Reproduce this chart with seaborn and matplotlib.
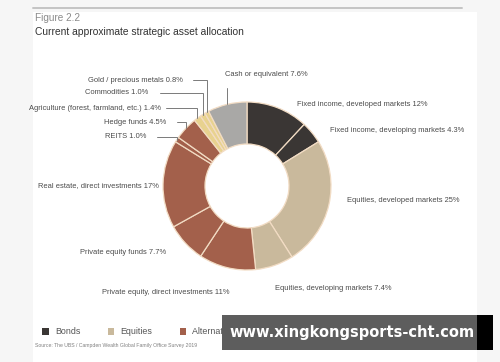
import matplotlib
matplotlib.use("Agg")
import matplotlib.pyplot as plt
import seaborn as sns
import numpy as np
from matplotlib.patches import Patch, Rectangle
from matplotlib.lines import Line2D

# ---------------- data ----------------
categories = ['Fixed income, developed markets', 'Fixed income, developing markets',
              'Equities, developed markets', 'Equities, developing markets',
              'Private equity, direct investments', 'Private equity funds',
              'Real estate, direct investments', 'REITS', 'Hedge funds',
              'Agriculture (forest, farmland, etc.)', 'Commodities',
              'Gold / precious metals', 'Cash or equivalent']
values = [12, 4.3, 25, 7.4, 11, 7.7, 17, 1.0, 4.5, 1.4, 1.0, 0.8, 7.6]
value_labels = ['12%', '4.3%', '25%', '7.4%', '11%', '7.7%', '17%', '1.0%',
                '4.5%', '1.4%', '1.0%', '0.8%', '7.6%']
groups = ['Bonds', 'Bonds', 'Equities', 'Equities',
          'Alternative investments', 'Alternative investments', 'Alternative investments',
          'Alternative investments', 'Alternative investments',
          'Commodities', 'Commodities', 'Commodities', 'Cash or equivalent']
legend_groups = ['Bonds', 'Equities', 'Alternative investments', 'Commodities', 'Cash or equivalent']
group_colors = ['#3a3634', '#c9b99c', '#a3604b', '#e8d28f', '#a9a8a6']

title_small = 'Figure 2.2'
title_main = 'Current approximate strategic asset allocation'
source = 'Source: The UBS / Campden Wealth Global Family Office Survey 2019'

# ---------------- style ----------------
sns.set_theme(style='white')
plt.rcParams['font.family'] = ['Liberation Sans', 'DejaVu Sans']

W, H = 500, 362
fig = plt.figure(figsize=(W / 100, H / 100), dpi=100, facecolor='#f6f6f6')
fig.add_artist(Rectangle((33 / W, 0), (477 - 33) / W, 1 - 12 / H, transform=fig.transFigure,
                         facecolor='white', edgecolor='none', zorder=-5))

# donut geometry (pixels in image coords)
CX, CY, R = 247, 186, 84
ax = fig.add_axes([(CX - R) / W, (H - CY - R) / H, 2 * R / W, 2 * R / H])
ax.set_facecolor('none')

palette = dict(zip(legend_groups, group_colors))
colors = [palette[g] for g in groups]
wedges, _ = ax.pie(values, colors=colors, startangle=90, counterclock=False, radius=1,
                   wedgeprops=dict(width=0.5, edgecolor='#f2dcc4', linewidth=0.9))
ax.set_xlim(-1, 1)
ax.set_ylim(-1, 1)
ax.axis('off')


def px(x, y):
    return (x - CX) / R, (CY - y) / R


# label layout: (x, y, ha) in image pixel coordinates
label_layout = [(297, 104, 'left'), (330, 130, 'left'), (347, 200, 'left'),
                (275, 288, 'left'), (102, 292, 'left'), (80, 252, 'left'),
                (38, 186, 'left'), (146, 137, 'right'), (166, 122, 'right'),
                (161, 108, 'right'), (148, 93, 'right'), (183, 80, 'right'),
                (225, 75, 'left')]
leader_start_x = {7: 157, 8: 177, 9: 166, 10: 160, 11: 193}

txt_color = '#4a4a4a'
line_color = '#7a7a7a'
for i, (cat, vl) in enumerate(zip(categories, value_labels)):
    x, y, ha = label_layout[i]
    tx, ty = px(x, y)
    ax.text(tx, ty, f'{cat} {vl}', ha=ha, va='center', fontsize=5.4,
            color=txt_color, clip_on=False)
    w = wedges[i]
    mid = np.deg2rad((w.theta1 + w.theta2) / 2)
    wx, wy = np.cos(mid) * w.r, np.sin(mid) * w.r
    if i in leader_start_x:
        sx, sy = px(leader_start_x[i], y)
        ax.plot([sx, wx, wx], [sy, sy, wy], color=line_color, lw=0.7,
                clip_on=False, solid_joinstyle='miter')
    elif i == 12:
        _, sy = px(0, 88)
        ax.plot([wx, wx], [sy, wy], color=line_color, lw=0.7, clip_on=False)

# titles
fig.add_artist(Line2D([33 / W, 462 / W], [1 - 8 / H] * 2, color='#c4c4c4', lw=1.4))
fig.text(35 / W, 1 - 18 / H, title_small, fontsize=7.2, color='#8a8a8a', va='center')
fig.text(35 / W, 1 - 32 / H, title_main, fontsize=7.4, color='#333333', va='center')

# legend
handles = [Patch(facecolor=c, edgecolor='none', label=g) for g, c in zip(legend_groups, group_colors)]
fig.legend(handles=handles, loc='center left', bbox_to_anchor=(38 / W, 1 - 332 / H),
           ncol=5, frameon=False, fontsize=6.4, handlelength=0.7, handleheight=0.7,
           handletextpad=0.7, columnspacing=3.1, labelcolor='#555555', borderpad=0)

fig.text(35 / W, 1 - 345 / H, source, fontsize=3.7, color='#808080', va='center')

# overlay banner present in the reference image
fig.add_artist(Rectangle((222 / W, 1 - 350 / H), (477 - 222) / W, 35 / H,
                         transform=fig.transFigure, facecolor='#5d5d5d', edgecolor='none', zorder=20))
fig.add_artist(Rectangle((477 / W, 1 - 350 / H), (493 - 477) / W, 35 / H,
                         transform=fig.transFigure, facecolor='#000000', edgecolor='none', zorder=20))
fig.text(352 / W, 1 - 333 / H, 'www.xingkongsports-cht.com', fontsize=10.5,
         fontweight='bold', color='white', ha='center', va='center', zorder=21,
         family=['DejaVu Sans'])

fig.savefig('out.png', dpi=100, facecolor=fig.get_facecolor())
